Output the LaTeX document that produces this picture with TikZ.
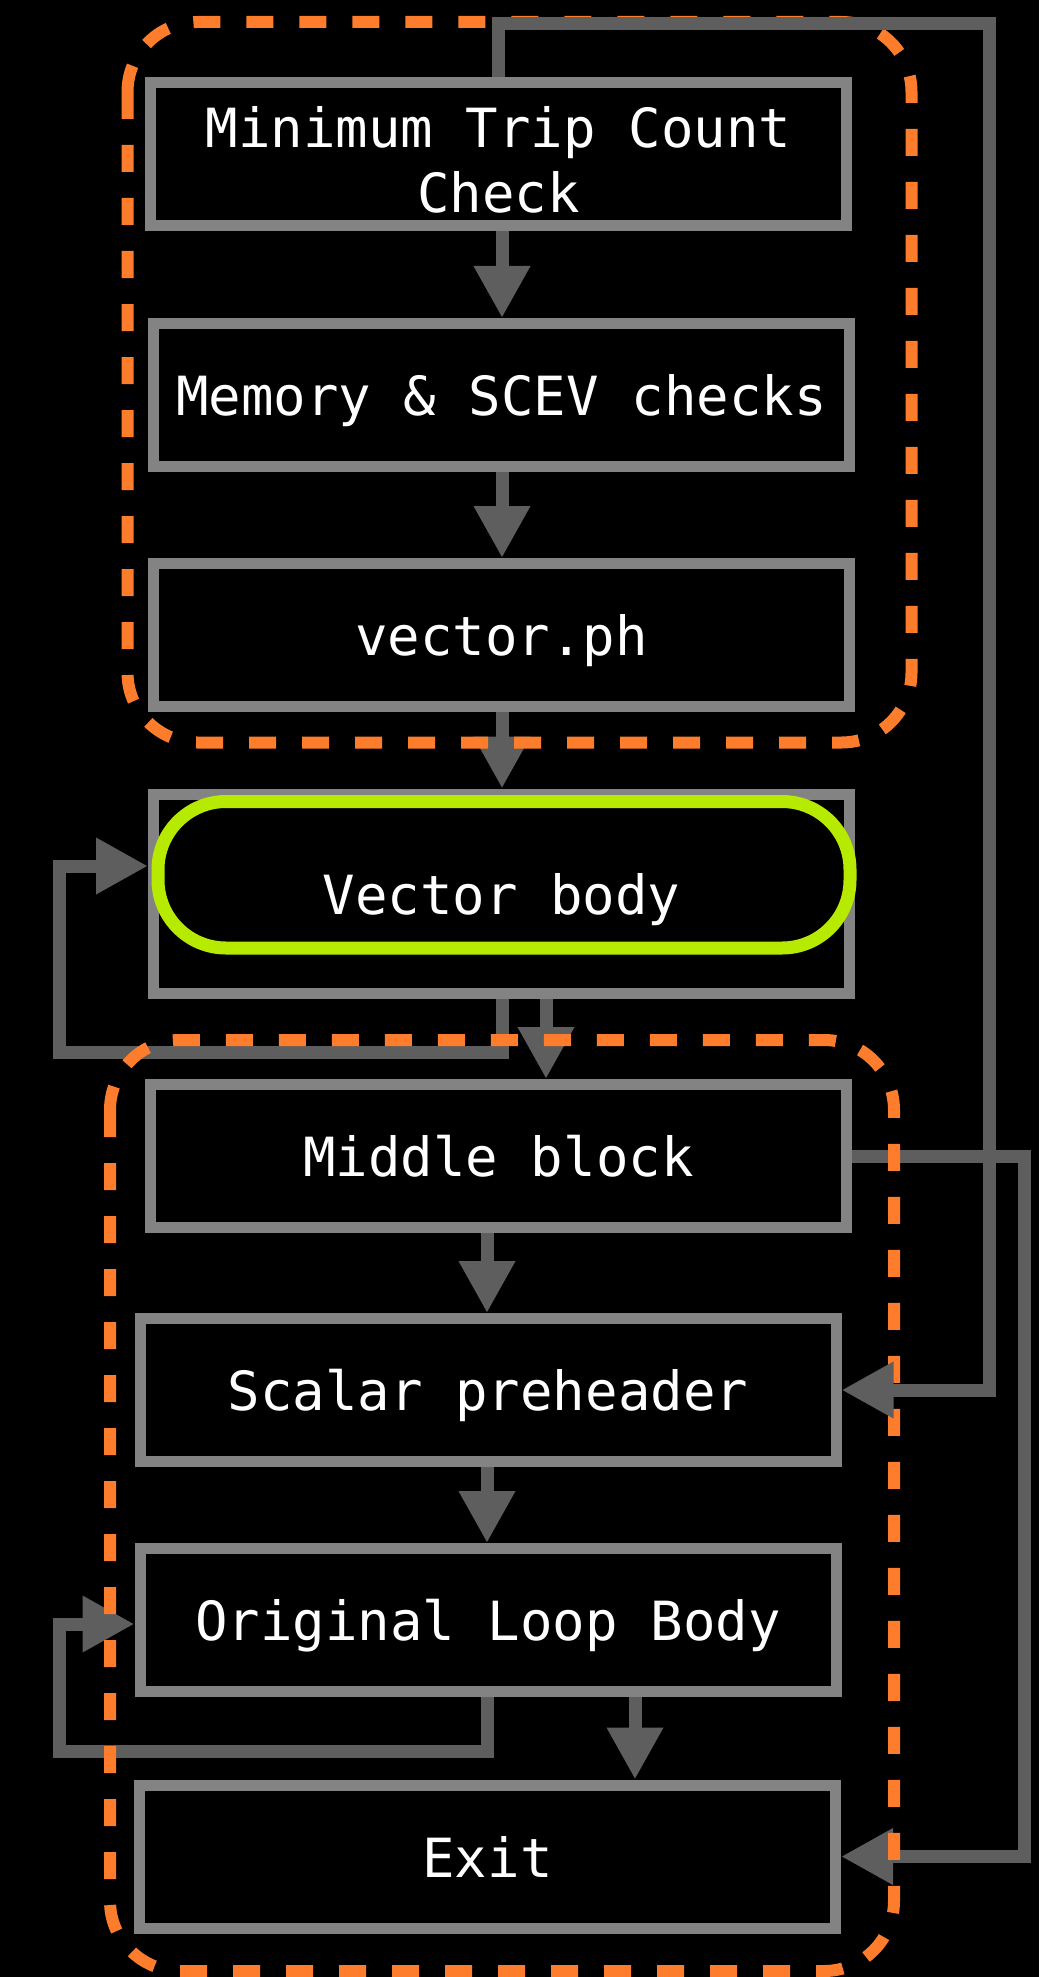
\documentclass[tikz,border=0pt]{standalone}
\usepackage{fontspec}
\setmonofont{DejaVu Sans Mono}
\usetikzlibrary{arrows.meta}
\definecolor{boxgray}{RGB}{131,131,131}
\definecolor{arrowgray}{RGB}{94,94,94}
\definecolor{grouporange}{RGB}{254,125,44}
\definecolor{hilite}{RGB}{182,234,0}
\begin{document}
\begin{tikzpicture}[x=1pt,y=-1pt,
  blk/.style={draw=boxgray, line width=11pt, fill=black, minimum width=696pt,
    minimum height=143pt, inner sep=0pt, text=white,
    font=\ttfamily\fontsize{54}{65}\selectfont, align=center},
  one/.style={text height=41pt, text depth=0pt},
  conn/.style={draw=arrowgray, line width=13pt, -{Triangle[length=52pt,width=53pt]}},
  grp/.style={draw=grouporange, line width=12pt, dash pattern=on 27pt off 26pt,
    rounded corners=70pt},
  hl/.style={draw=hilite, line width=13pt, rounded corners=68pt, inner sep=0pt,
    minimum width=692pt, minimum height=146.5pt}
]
\fill[black] (0,0) rectangle (1039,1977);
\useasboundingbox (0,0) rectangle (1039,1977);

\node[blk] (b1) at (498.5,154) {\rule{0pt}{52.5pt}Minimum Trip Count\\Check};
\node[blk, one] (b2) at (501.5,395) {Memory \& SCEV checks};
\node[blk, one] (b3) at (501.5,635) {vector.ph};
\node[blk, one, minimum height=199pt] (b4) at (501.5,893.5) {Vector body};
\node[hl] (vb) at (504,874.75) {};
\node[blk, one] (b5) at (498.5,1156) {Middle block};
\node[blk, one] (b6) at (488,1390) {Scalar preheader};
\node[blk, one] (b7) at (488,1620) {Original Loop Body};
\node[blk, one] (b8) at (487.5,1856.5) {Exit};

\draw[conn] (b1.south -| 502,0) -- (b2.north -| 502,0);
\draw[conn] (b2.south -| 502,0) -- (b3.north -| 502,0);
\draw[conn] (b3.south -| 502,0) -- (b4.north -| 502,0);
\draw[conn] (b4.south -| 546,0) -- (b5.north -| 546,0);
\draw[conn] (b4.south -| 502,0) -- (502,1052.5) -- (59,1052.5) -- (59,866) -- (b4.west |- 0,866);
\draw[conn] (b5.east) -- (b5.east -| 1024,0) |- (b8.east);
\draw[conn] (b5.south -| 487,0) -- (b6.north -| 487,0);
\draw[conn] (b6.south -| 487,0) -- (b7.north -| 487,0);
\draw[conn] (b7.south -| 487,0) -- (487,1751) -- (59,1751) -- (59,1624) -- (b7.west |- 0,1624);
\draw[conn] (b7.south -| 635,0) -- (b8.north -| 635,0);

\draw[grp] (127.5,22) rectangle (911.5,742.5);
\draw[grp] (110,1040) rectangle (894,1971);

\draw[conn] (b1.north) -- (b1.north |- 0,24) -- (989.5,24) |- (b6.east);
\end{tikzpicture}
\end{document}
